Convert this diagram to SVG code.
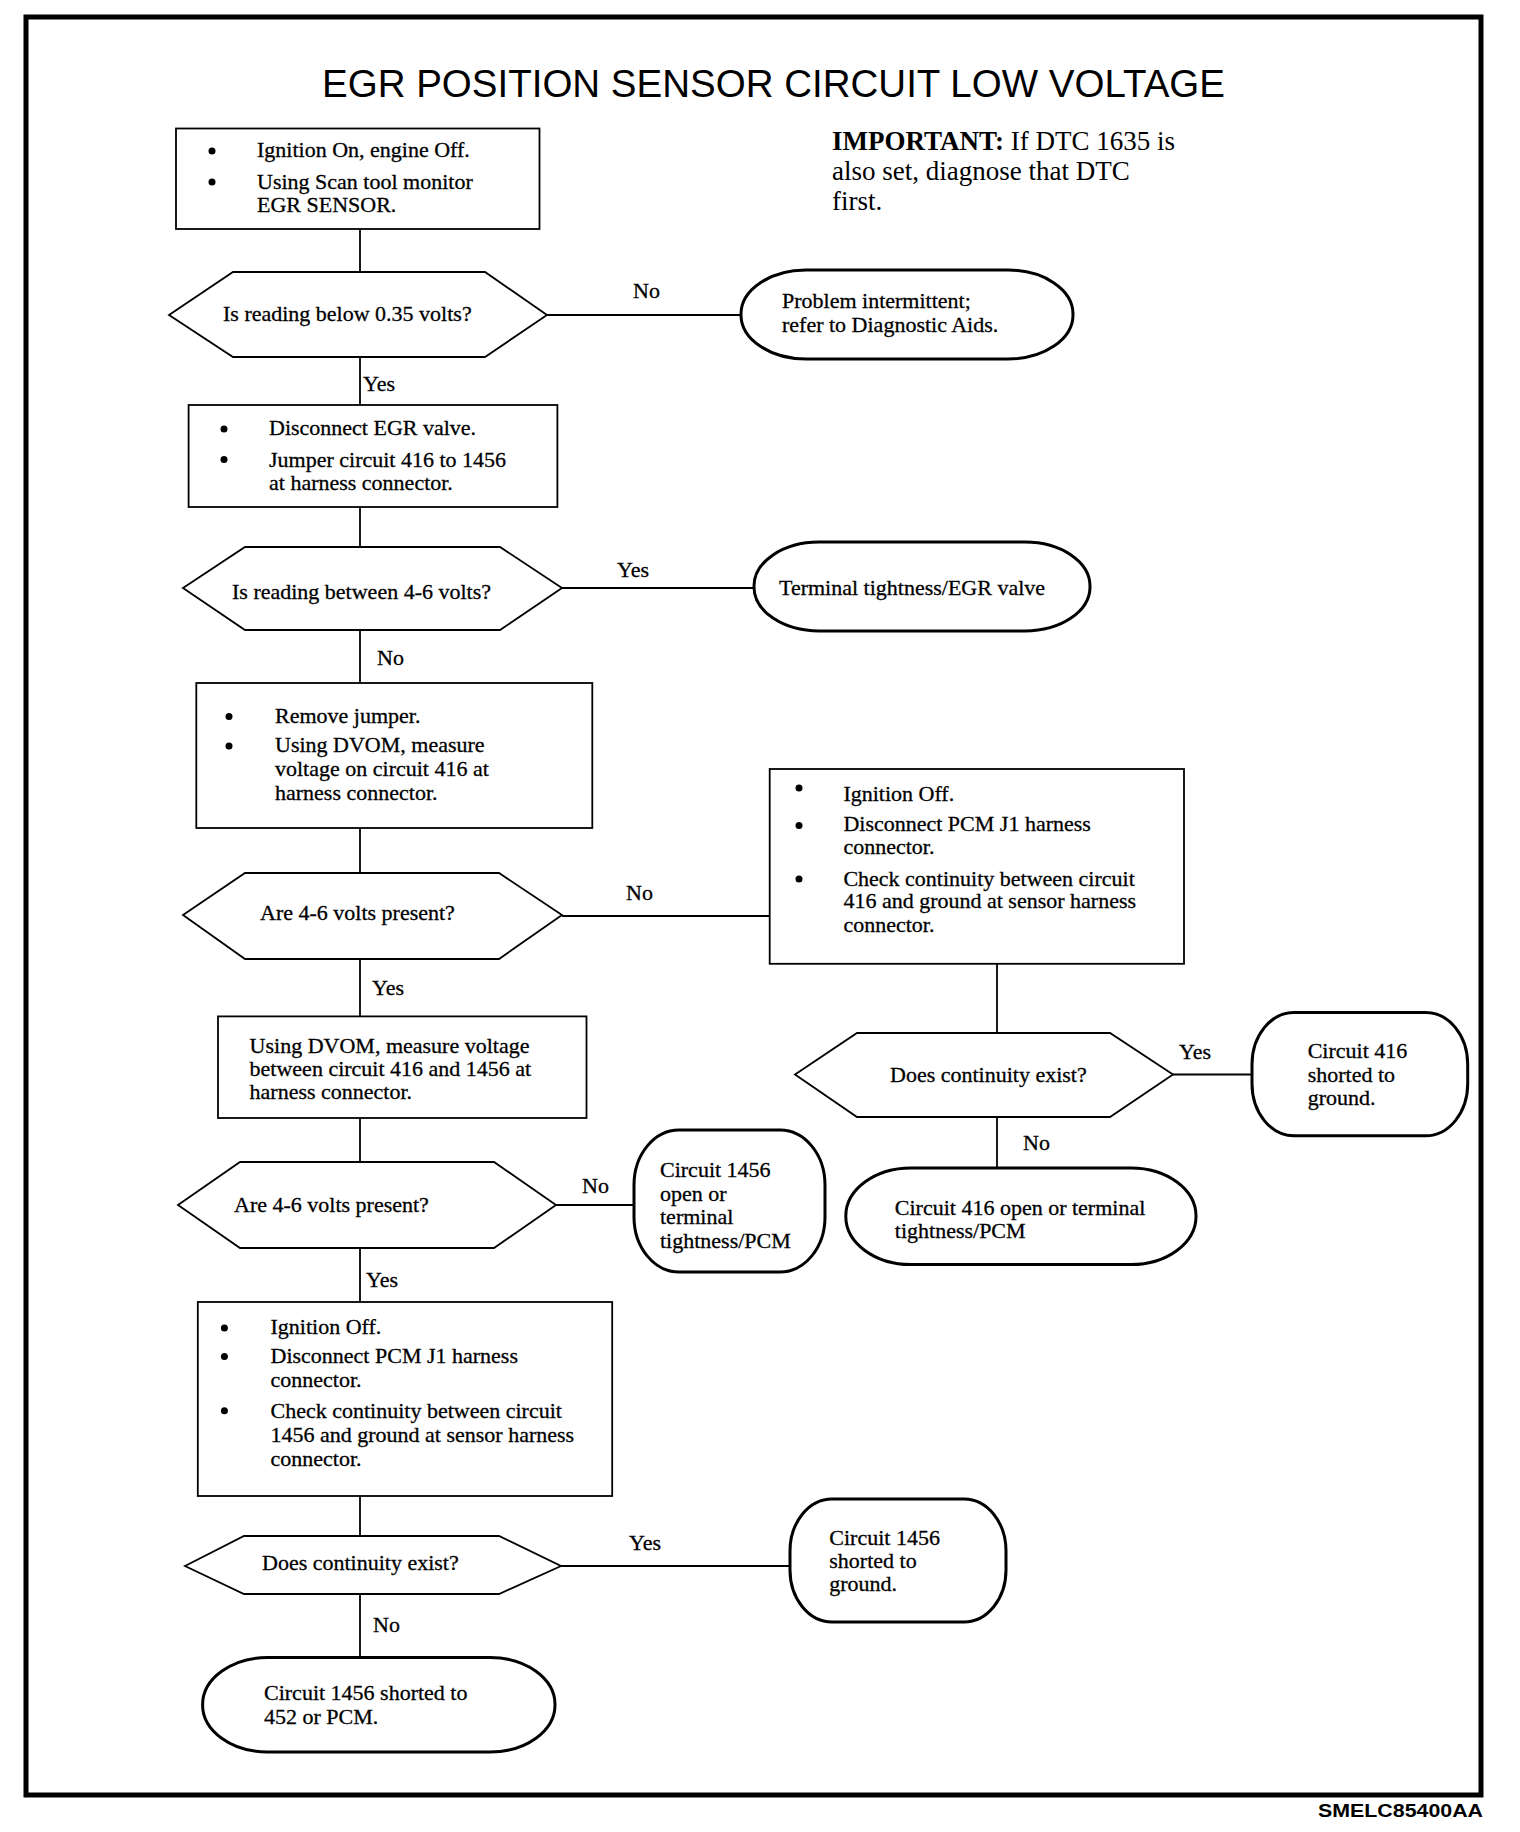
<svg xmlns="http://www.w3.org/2000/svg" width="1520" height="1832" viewBox="0 0 1520 1832">
<style>
.box{fill:#fff;stroke:#000;stroke-width:1.8}
.dec{fill:#fff;stroke:#000;stroke-width:1.8}
.term{fill:#fff;stroke:#000;stroke-width:3}
.t{font-family:"Liberation Serif","Times New Roman",serif;font-size:22px;fill:#000;stroke:#000;stroke-width:0.3}
.b{fill:#000}
.con line{stroke:#000;stroke-width:1.8}
</style>
<rect width="1520" height="1832" fill="#fff"/>
<rect x="26" y="17" width="1455" height="1778" fill="none" stroke="#000" stroke-width="5"/>
<text x="322" y="97" font-family="Liberation Sans, Arial, sans-serif" font-size="38.5" textLength="903" lengthAdjust="spacingAndGlyphs">EGR POSITION SENSOR CIRCUIT LOW VOLTAGE</text>
<g id="important" font-family="Liberation Serif, Times New Roman, serif" font-size="27">
<text x="832" y="150"><tspan font-weight="bold">IMPORTANT:</tspan> If DTC 1635 is</text>
<text x="832" y="180">also set, diagnose that DTC</text>
<text x="832" y="210">first.</text>
</g>
<g class="con" id="connectors">
<line x1="360" y1="229" x2="360" y2="272"/>
<line x1="360" y1="357" x2="360" y2="405"/>
<line x1="360" y1="507" x2="360" y2="547"/>
<line x1="360" y1="630" x2="360" y2="683"/>
<line x1="360" y1="828" x2="360" y2="873"/>
<line x1="360" y1="959" x2="360" y2="1016"/>
<line x1="360" y1="1118" x2="360" y2="1162"/>
<line x1="360" y1="1248" x2="360" y2="1302"/>
<line x1="360" y1="1496" x2="360" y2="1536"/>
<line x1="360" y1="1594" x2="360" y2="1657"/>
<line x1="547" y1="315" x2="741" y2="315"/>
<line x1="562" y1="588" x2="754" y2="588"/>
<line x1="562" y1="916" x2="770" y2="916"/>
<line x1="556" y1="1205" x2="634" y2="1205"/>
<line x1="561" y1="1566" x2="790" y2="1566"/>
<line x1="997" y1="964" x2="997" y2="1033"/>
<line x1="1173" y1="1074.5" x2="1252" y2="1074.5"/>
<line x1="997" y1="1117" x2="997" y2="1168"/>
<text class="t" x="633" y="298">No</text>
<text class="t" x="363" y="391">Yes</text>
<text class="t" x="617" y="577">Yes</text>
<text class="t" x="377" y="665">No</text>
<text class="t" x="626" y="900">No</text>
<text class="t" x="372" y="995">Yes</text>
<text class="t" x="582" y="1193">No</text>
<text class="t" x="366" y="1287">Yes</text>
<text class="t" x="629" y="1550">Yes</text>
<text class="t" x="373" y="1632">No</text>
<text class="t" x="1179" y="1059">Yes</text>
<text class="t" x="1023" y="1150">No</text>
</g>
<g id="n1">
<rect class="box" x="176" y="128.5" width="363.5" height="100.5"/>
<circle class="b" cx="212" cy="151" r="3.5"/>
<circle class="b" cx="212" cy="182" r="3.5"/>
<text class="t" x="257" y="157">Ignition On, engine Off.</text>
<text class="t" x="257" y="188.5">Using Scan tool monitor</text>
<text class="t" x="257" y="211.5">EGR SENSOR.</text>
</g>
<g id="n2">
<polygon class="dec" points="169,315 233,272 485,272 547,315 485,357 233,357"/>
<text class="t" x="223" y="321">Is reading below 0.35 volts?</text>
</g>
<g id="n2a">
<rect class="term" x="741" y="270" width="332" height="89" rx="65" ry="44"/>
<text class="t" x="782" y="308">Problem intermittent;</text>
<text class="t" x="782" y="332">refer to Diagnostic Aids.</text>
</g>
<g id="n3">
<rect class="box" x="188.6" y="405" width="368.8" height="102"/>
<circle class="b" cx="224" cy="429" r="3.5"/>
<circle class="b" cx="224" cy="459.5" r="3.5"/>
<text class="t" x="269" y="435">Disconnect EGR valve.</text>
<text class="t" x="269" y="466.5">Jumper circuit 416 to 1456</text>
<text class="t" x="269" y="489.5">at harness connector.</text>
</g>
<g id="n4">
<polygon class="dec" points="183,588 245,547 500,547 562,588 500,630 245,630"/>
<text class="t" x="232" y="599">Is reading between 4-6 volts?</text>
</g>
<g id="n4a">
<rect class="term" x="754" y="542" width="336" height="89" rx="65" ry="44"/>
<text class="t" x="779" y="595">Terminal tightness/EGR valve</text>
</g>
<g id="n5">
<rect class="box" x="196.3" y="683" width="396" height="145"/>
<circle class="b" cx="229" cy="716.5" r="3.5"/>
<circle class="b" cx="229" cy="746" r="3.5"/>
<text class="t" x="275" y="722.5">Remove jumper.</text>
<text class="t" x="275" y="752">Using DVOM, measure</text>
<text class="t" x="275" y="776">voltage on circuit 416 at</text>
<text class="t" x="275" y="799.5">harness connector.</text>
</g>
<g id="n6">
<polygon class="dec" points="183,915 245,873 499,873 562,915 499,959 245,959"/>
<text class="t" x="260" y="919.5">Are 4-6 volts present?</text>
</g>
<g id="n7">
<rect class="box" x="769.7" y="769" width="414.3" height="194.8"/>
<circle class="b" cx="799" cy="788" r="3.5"/>
<circle class="b" cx="799" cy="825.5" r="3.5"/>
<circle class="b" cx="799" cy="879" r="3.5"/>
<text class="t" x="843.4" y="801">Ignition Off.</text>
<text class="t" x="843.4" y="831.3">Disconnect PCM J1 harness</text>
<text class="t" x="843.4" y="854.2">connector.</text>
<text class="t" x="843.4" y="885.5">Check continuity between circuit</text>
<text class="t" x="843.4" y="908.4">416 and ground at sensor harness</text>
<text class="t" x="843.4" y="932">connector.</text>
</g>
<g id="n8">
<rect class="box" x="218" y="1016.4" width="368.5" height="101.6"/>
<text class="t" x="249.6" y="1052.7">Using DVOM, measure voltage</text>
<text class="t" x="249.6" y="1075.5">between circuit 416 and 1456 at</text>
<text class="t" x="249.6" y="1099">harness connector.</text>
</g>
<g id="n9">
<polygon class="dec" points="178,1205 240,1162 494,1162 556,1205 494,1248 240,1248"/>
<text class="t" x="234" y="1212">Are 4-6 volts present?</text>
</g>
<g id="n9a">
<rect class="term" x="634" y="1130" width="191" height="142" rx="45" ry="55"/>
<text class="t" x="660" y="1177">Circuit 1456</text>
<text class="t" x="660" y="1201">open or</text>
<text class="t" x="660" y="1224">terminal</text>
<text class="t" x="660" y="1248">tightness/PCM</text>
</g>
<g id="n10">
<polygon class="dec" points="795,1074.5 857,1033 1110,1033 1173,1074.5 1110,1117 857,1117"/>
<text class="t" x="890" y="1082.4">Does continuity exist?</text>
</g>
<g id="n10a">
<rect class="term" x="1252" y="1012.4" width="215.7" height="123.4" rx="42" ry="52"/>
<text class="t" x="1307.7" y="1058">Circuit 416</text>
<text class="t" x="1307.7" y="1081.6">shorted to</text>
<text class="t" x="1307.7" y="1105.3">ground.</text>
</g>
<g id="n11">
<rect class="term" x="845.8" y="1168" width="350.2" height="96.5" rx="65" ry="48"/>
<text class="t" x="894.8" y="1215">Circuit 416 open or terminal</text>
<text class="t" x="894.8" y="1238.3">tightness/PCM</text>
</g>
<g id="n12">
<rect class="box" x="197.8" y="1302" width="414.4" height="194"/>
<circle class="b" cx="224.4" cy="1328" r="3.5"/>
<circle class="b" cx="224.4" cy="1356.4" r="3.5"/>
<circle class="b" cx="224.4" cy="1410.8" r="3.5"/>
<text class="t" x="270.5" y="1334">Ignition Off.</text>
<text class="t" x="270.5" y="1363">Disconnect PCM J1 harness</text>
<text class="t" x="270.5" y="1387.4">connector.</text>
<text class="t" x="270.5" y="1417.7">Check continuity between circuit</text>
<text class="t" x="270.5" y="1441.8">1456 and ground at sensor harness</text>
<text class="t" x="270.5" y="1466">connector.</text>
</g>
<g id="n13">
<polygon class="dec" points="185,1566 244,1536 499,1536 561,1566 499,1594 244,1594"/>
<text class="t" x="262" y="1570">Does continuity exist?</text>
</g>
<g id="n13a">
<rect class="term" x="790" y="1499" width="216" height="123" rx="42" ry="52"/>
<text class="t" x="829.3" y="1544.6">Circuit 1456</text>
<text class="t" x="829.3" y="1567.6">shorted to</text>
<text class="t" x="829.3" y="1591">ground.</text>
</g>
<g id="n14">
<rect class="term" x="202.6" y="1657.5" width="352.4" height="94.5" rx="65" ry="47"/>
<text class="t" x="264" y="1700">Circuit 1456 shorted to</text>
<text class="t" x="264" y="1724">452 or PCM.</text>
</g>
<text x="1318" y="1817" font-family="Liberation Sans, Arial, sans-serif" font-size="19" font-weight="bold" textLength="165" lengthAdjust="spacingAndGlyphs">SMELC85400AA</text>
</svg>
